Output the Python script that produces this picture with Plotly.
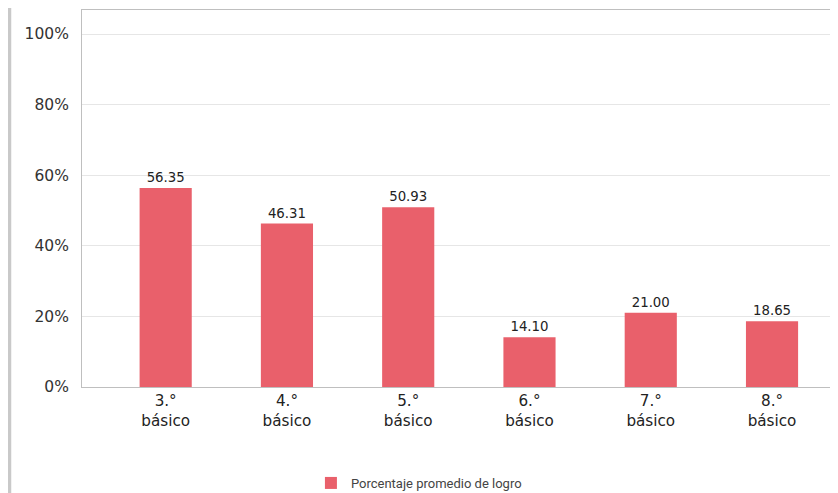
import plotly.graph_objects as go

categories = ["3.°<br>básico", "4.°<br>básico", "5.°<br>básico", "6.°<br>básico", "7.°<br>básico", "8.°<br>básico"]
values = [56.35, 46.31, 50.93, 14.10, 21.00, 18.65]
labels = ["56.35", "46.31", "50.93", "14.10", "21.00", "18.65"]
series_name = "Porcentaje promedio de logro"
tick_vals = [0, 20, 40, 60, 80, 100]
tick_text = ["0%", "20%", "40%", "60%", "80%", "100%"]

fig = go.Figure()
fig.add_trace(go.Bar(
    x=categories, y=values, name=series_name,
    marker=dict(color="#E9606B", line=dict(width=0)),
    width=0.43,
    text=labels, textposition="outside", cliponaxis=False,
    textfont=dict(family="DejaVu Sans", size=13.3, color="#222222"),
    showlegend=True,
))

fig.update_layout(
    width=838, height=493,
    margin=dict(l=74, r=0, t=2, b=114),
    paper_bgcolor="white", plot_bgcolor="white",
    font=dict(family="DejaVu Sans", size=15, color="#333333"),
    showlegend=True,
    legend=dict(orientation="h", x=0.441, xanchor="center", y=-0.2546, yanchor="middle",
                font=dict(family="Roboto", size=13, color="#444444"),
                itemwidth=30),
    xaxis=dict(range=[-0.69, 5.61], showgrid=False, showline=True, linecolor="#bfbfbf",
               linewidth=1, mirror=True, ticks="", tickfont=dict(size=15.2, color="#222222")),
    yaxis=dict(range=[0, 106.8], tickvals=tick_vals, ticktext=tick_text, showgrid=True,
               gridcolor="#e6e6e6", gridwidth=1, showline=True, linecolor="#bfbfbf",
               zeroline=False, ticks="", ticklabelstandoff=9,
               tickfont=dict(size=15.5, color="#333333")),
    bargap=0.57,
    shapes=[dict(type="rect", xref="paper", yref="paper", x0=-0.0979, x1=-0.0926,
                 y0=-0.32, y1=1.02, fillcolor="#c9c9c9", line=dict(width=0), layer="above")],
)

fig.write_html("out.html")
